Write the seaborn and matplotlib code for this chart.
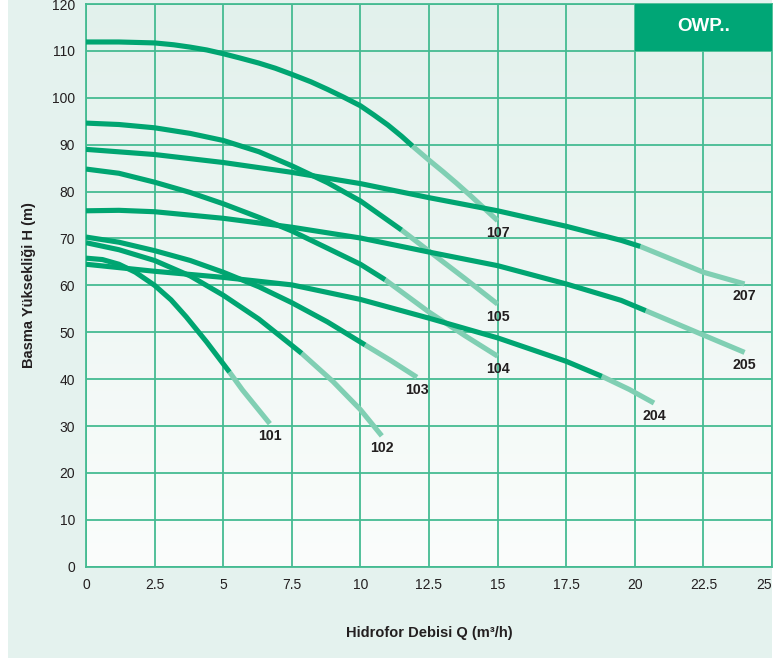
import numpy as np
import pandas as pd
import matplotlib.pyplot as plt
import seaborn as sns
from matplotlib.patches import Rectangle

# pompa egrileri (Q m3/h, H m)
q_101 = [0, 0.6, 1.2, 1.8, 2.5, 3.1, 3.65, 4.4, 5.23, 5.7, 6.2, 6.7]
h_101 = [65.8, 65.5, 64.5, 62.8, 60.0, 56.9, 53.3, 47.9, 41.5, 37.7, 34.1, 30.5]

q_102 = [0, 1.2, 2.5, 3.8, 5, 6.3, 7.5, 7.86, 9, 10, 10.78]
h_102 = [69.1, 67.6, 65.3, 62.0, 57.9, 52.8, 47.2, 45.5, 39.5, 33.5, 27.9]

q_103 = [0, 1.2, 2.5, 3.8, 5, 6.3, 7.5, 8.8, 10.17, 11.1, 12.06]
h_103 = [70.3, 69.2, 67.4, 65.3, 62.8, 59.7, 56.3, 52.2, 47.3, 44.0, 40.4]

q_104 = [0, 1.2, 2.5, 3.8, 5, 6.3, 7.5, 8.7, 10, 10.9, 12.5, 13.8, 15]
h_104 = [84.8, 83.9, 82.0, 79.8, 77.4, 74.5, 71.6, 68.2, 64.5, 61.2, 54.3, 49.3, 44.9]

q_105 = [0, 1.2, 2.5, 3.8, 5, 6.3, 7.5, 8.8, 10, 11.5, 12.5, 13.8, 15]
h_105 = [94.6, 94.3, 93.6, 92.4, 90.9, 88.5, 85.5, 81.9, 78.0, 71.8, 67.3, 61.5, 56.0]

q_107 = [0, 1.2, 2.5, 3.2, 3.8, 4.4, 5, 5.6, 6.3, 6.9, 7.5, 8.2, 8.8, 9.4, 10, 10.5, 11, 11.5, 11.9, 12.5, 13, 13.5, 14, 14.5, 15]
h_107 = [111.9, 111.9, 111.7, 111.3, 110.8, 110.2, 109.4, 108.5, 107.4, 106.3, 105.0, 103.4, 101.8, 100.1, 98.3, 96.3, 94.2, 91.8, 89.7, 86.7, 84.3, 81.8, 79.2, 76.5, 73.8]

q_204 = [0, 2.5, 5, 7.5, 10, 12.5, 15, 17.5, 18.8, 19.8, 20.7]
h_204 = [64.5, 63.0, 61.7, 60.1, 57.0, 53.0, 48.8, 43.8, 40.6, 37.8, 34.9]

q_205 = [0, 1.2, 2.5, 5, 7.5, 10, 12.5, 15, 17.5, 19.5, 20.4, 22.5, 24]
h_205 = [75.9, 76.0, 75.7, 74.3, 72.4, 70.1, 67.1, 64.2, 60.3, 56.8, 54.6, 49.4, 45.7]

q_207 = [0, 2.5, 5, 7.5, 10, 12.5, 15, 17.5, 19.5, 20.2, 22.5, 24]
h_207 = [89.0, 87.9, 86.2, 84.1, 81.7, 78.7, 75.9, 72.6, 69.6, 68.3, 62.8, 60.3]

pump_names = ['101', '102', '103', '104', '105', '107', '204', '205', '207']
# koyu (onerilen) bolgenin bittigi debi
split_q = [5.23, 7.86, 10.17, 10.9, 11.5, 11.9, 18.8, 20.4, 20.2]

x_ticks = [0, 2.5, 5, 7.5, 10, 12.5, 15, 17.5, 20, 22.5, 25]
x_tick_labels = ['0', '2.5', '5', '7.5', '10', '12.5', '15', '17.5', '20', '22.5', '25']
y_ticks = list(range(0, 121, 10))

DARK = '#00a571'
LIGHT = '#80cfb3'
GRID = '#45bb92'
TXT = '#231f20'

all_q = [q_101, q_102, q_103, q_104, q_105, q_107, q_204, q_205, q_207]
all_h = [h_101, h_102, h_103, h_104, h_105, h_107, h_204, h_205, h_207]

#%%
rows = []
for name, qs, hs, sq in zip(pump_names, all_q, all_h, split_q):
    for q, h in zip(qs, hs):
        if q <= sq:
            rows.append((name, 'dark', q, h))
        if q >= sq:
            rows.append((name, 'light', q, h))
df = pd.DataFrame(rows, columns=['pump', 'segment', 'Q', 'H'])

sns.set_theme(style='white')
plt.rcParams['font.family'] = ['Liberation Sans', 'DejaVu Sans']

fig = plt.figure(figsize=(7.83, 6.58), dpi=100)
fig.patch.set_facecolor('white')
fig.patches.append(Rectangle((8 / 783, 0), (772 - 8) / 783, 1, transform=fig.transFigure,
                             facecolor='#e4f2ee', edgecolor='none', zorder=-10))

ax = fig.add_axes([86 / 783, 1 - 566.7 / 658, (772 - 86) / 783, (566.7 - 4) / 658])

# arka plan gecisi (ustte acik yesil, altta beyaz)
top = np.array([226, 241, 236]) / 255
bot = np.array([251, 253, 252]) / 255
t = np.linspace(0, 1, 256)[:, None]
grad = (top * (1 - t) + bot * t)[:, None, :]
ax.imshow(grad, extent=[0, 25, 0, 120], aspect='auto', origin='upper', zorder=0)

sns.lineplot(data=df, x='Q', y='H', hue='segment', units='pump', estimator=None, sort=False,
             hue_order=['light', 'dark'], palette={'dark': DARK, 'light': LIGHT},
             linewidth=3.7, legend=False, ax=ax, zorder=3, solid_capstyle='butt',
             solid_joinstyle='round')

for name, qs, hs in zip(pump_names, all_q, all_h):
    ax.annotate(name, (qs[-1], hs[-1]), xytext=(0, -9), textcoords='offset points',
                ha='center', va='center', fontsize=10.2, fontweight='bold', color=TXT, zorder=5)

# OWP.. kutusu
ax.add_patch(Rectangle((20, 110), 5, 10, facecolor='#00a676', edgecolor='none', zorder=4))
ax.text(22.5, 115.2, 'OWP..', color='white', fontsize=13.5, fontweight='bold',
        ha='center', va='center', zorder=5)

ax.set_xlim(0, 25)
ax.set_ylim(0, 120)
ax.set_xticks(x_ticks)
ax.set_xticklabels(x_tick_labels)
ax.get_xticklabels()[-1].set_horizontalalignment('right')
ax.set_yticks(y_ticks)
ax.grid(True, color=GRID, linewidth=1.3, zorder=1)
ax.set_axisbelow(True)
for sp in ax.spines.values():
    sp.set_color(GRID)
    sp.set_linewidth(1.3)
ax.tick_params(axis='both', length=0, pad=8, labelsize=10, labelcolor=TXT)

ax.set_xlabel('Hidrofor Debisi Q (m³/h)', fontsize=10.5, fontweight='bold', color=TXT)
ax.set_ylabel('Basma Yüksekliği H (m)', fontsize=10.5, fontweight='bold', color=TXT)
ax.xaxis.set_label_coords(0.5, -0.105)
ax.yaxis.set_label_coords(-0.073, 0.5)

plt.savefig('out.png', dpi=100)
